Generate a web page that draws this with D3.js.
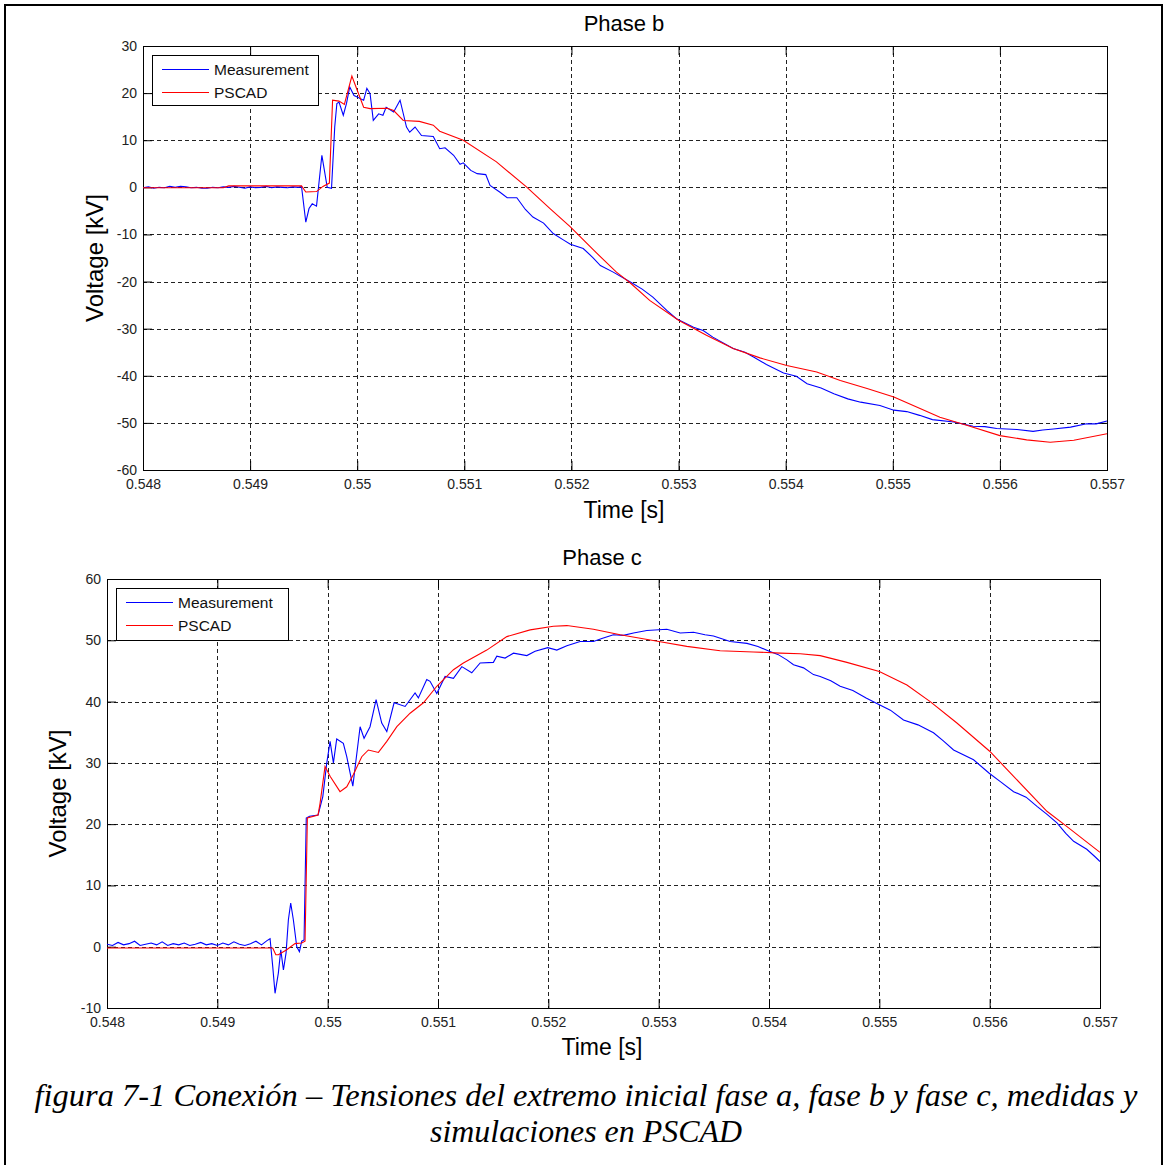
<!DOCTYPE html>
<html>
<head>
<meta charset="utf-8">
<script src="https://cdn.jsdelivr.net/npm/d3@7"></script>
<style>
  body { margin: 0; background: #fff; }
  svg { display: block; }
</style>
</head>
<body>
<svg id="chart" width="1166" height="1165"></svg>
<script>
// ---------------- DATA ----------------
const xTicks = [0.548, 0.549, 0.550, 0.551, 0.552, 0.553, 0.554, 0.555, 0.556, 0.557];
const xTickLabels = ["0.548", "0.549", "0.55", "0.551", "0.552", "0.553", "0.554", "0.555", "0.556", "0.557"];
const yTicksB = [30, 20, 10, 0, -10, -20, -30, -40, -50, -60];
const yTicksC = [60, 50, 40, 30, 20, 10, 0, -10];
const seriesNames = ["Measurement", "PSCAD"];

// Phase b – measurement [time s, kV]
const phaseB_meas = [
  [0.54800,-0.1],[0.54805,0.1],[0.54810,-0.2],[0.54815,0.0],[0.54820,-0.1],[0.54825,0.2],[0.54830,0.0],[0.54835,0.2],
  [0.54840,0.1],[0.54845,-0.1],[0.54850,0.0],[0.54855,-0.2],[0.54860,-0.2],[0.54865,0.0],[0.54870,-0.1],[0.54875,0.1],
  [0.54880,0.0],[0.54885,0.2],[0.54890,0.0],[0.54895,-0.2],[0.54900,0.1],[0.54905,-0.1],[0.54910,0.0],[0.54915,0.2],
  [0.54920,-0.1],[0.54925,0.1],[0.54930,0.0],[0.54935,-0.1],[0.54940,0.1],[0.54945,0.0],[0.54948,0.2],
  [0.54952,-7.4],[0.54955,-4.5],[0.54958,-3.5],[0.54962,-4.0],[0.54967,6.8],[0.54972,0.0],[0.54976,-0.2],
  [0.54979,12.8],[0.54981,17.8],[0.54983,18.1],[0.54987,15.3],[0.54990,17.8],[0.54993,21.3],[0.54997,19.5],
  [0.55000,19.2],[0.55003,18.8],[0.55006,18.5],[0.55009,21.0],[0.55012,19.9],[0.55015,14.2],[0.55020,15.6],
  [0.55024,15.3],[0.55027,17.0],[0.55034,16.0],[0.55040,18.5],[0.55046,12.8],[0.55049,11.7],[0.55054,12.8],
  [0.55060,11.0],[0.55071,10.8],[0.55077,8.2],[0.55082,8.4],[0.55090,6.8],[0.55096,4.9],[0.55099,5.2],
  [0.55106,3.6],[0.55112,2.9],[0.55120,2.7],[0.55124,0.4],[0.55133,-1.0],[0.55140,-2.2],[0.55149,-2.2],
  [0.55157,-4.7],[0.55164,-6.3],[0.55174,-7.6],[0.55183,-9.8],[0.55192,-11.1],[0.55199,-12.1],[0.55211,-13.0],
  [0.55220,-14.9],[0.55227,-16.6],[0.55239,-18.0],[0.55255,-20.1],[0.55266,-21.6],[0.55276,-23.3],[0.55289,-26.1],
  [0.55298,-27.9],[0.55314,-29.7],[0.55323,-30.4],[0.55332,-31.8],[0.55351,-34.2],[0.55362,-35.0],[0.55370,-36.0],
  [0.55382,-37.6],[0.55398,-39.4],[0.55410,-40.1],[0.55420,-41.7],[0.55433,-42.6],[0.55445,-43.8],[0.55458,-44.9],
  [0.55470,-45.6],[0.55488,-46.3],[0.55501,-47.3],[0.55513,-47.6],[0.55525,-48.4],[0.55537,-49.3],[0.55557,-49.8],
  [0.55575,-50.7],[0.55586,-50.8],[0.55597,-51.2],[0.55616,-51.4],[0.55631,-51.8],[0.55640,-51.5],[0.55650,-51.3],
  [0.55666,-50.9],[0.55681,-50.2],[0.55690,-50.2],[0.55700,-49.6]
];

// Phase b – PSCAD
const phaseB_sim = [
  [0.54800,-0.1],[0.54875,-0.1],[0.54880,0.3],[0.54948,0.3],[0.54952,-1.0],[0.54962,-0.9],[0.54968,0.2],
  [0.54974,0.9],[0.54977,18.5],[0.54983,18.3],[0.54988,17.6],[0.54995,23.6],[0.55000,20.6],[0.55006,17.0],
  [0.55012,16.7],[0.55028,16.8],[0.55034,16.3],[0.55043,14.2],[0.55058,14.0],[0.55071,13.2],[0.55077,11.9],
  [0.55099,10.0],[0.55130,5.4],[0.55158,0.1],[0.55180,-4.5],[0.55199,-8.4],[0.55221,-13.4],[0.55242,-18.0],
  [0.55255,-20.3],[0.55273,-24.0],[0.55300,-28.2],[0.55326,-31.4],[0.55351,-34.2],[0.55376,-36.2],[0.55401,-37.8],
  [0.55429,-39.2],[0.55451,-41.0],[0.55476,-42.7],[0.55501,-44.5],[0.55526,-47.0],[0.55544,-48.8],[0.55569,-50.5],
  [0.55600,-52.7],[0.55625,-53.6],[0.55647,-54.1],[0.55669,-53.7],[0.55700,-52.3]
];

// Phase c – measurement
const phaseC_meas = [
  [0.54800,0.4],[0.54805,0.2],[0.54810,0.7],[0.54815,0.3],[0.54820,0.5],[0.54825,0.9],[0.54830,0.2],[0.54835,0.4],
  [0.54840,0.6],[0.54845,0.3],[0.54850,0.8],[0.54855,0.2],[0.54860,0.5],[0.54865,0.3],[0.54870,0.6],[0.54875,0.2],
  [0.54880,0.4],[0.54885,0.7],[0.54890,0.3],[0.54895,0.5],[0.54900,0.2],[0.54905,0.6],[0.54910,0.3],[0.54915,0.8],
  [0.54920,0.4],[0.54925,0.2],[0.54930,0.5],[0.54935,0.9],[0.54940,0.3],[0.54945,1.0],
  [0.549478,1.3],[0.549502,-3.2],[0.549523,-7.6],[0.549553,-4.3],[0.549575,-0.5],[0.549599,-3.8],[0.549623,-1.0],
  [0.549644,4.4],[0.549665,7.1],[0.549689,4.4],[0.549720,0.0],[0.549744,-0.8],[0.549765,0.9],[0.549786,1.1],
  [0.549806,21.0],[0.549836,21.3],[0.549913,21.5],[0.549956,24.5],[0.549992,30.0],[0.550022,33.5],[0.550052,30.0],
  [0.550082,33.9],[0.550142,33.2],[0.550173,31.0],[0.550228,26.2],[0.550294,35.9],[0.550330,34.0],[0.550384,35.9],
  [0.550439,40.3],[0.550490,36.5],[0.550536,35.1],[0.550602,39.8],[0.550702,39.2],[0.550792,41.4],[0.550822,40.6],
  [0.550898,43.6],[0.550928,43.3],[0.550989,41.3],[0.551064,44.1],[0.551140,43.8],[0.551216,45.7],[0.551306,44.7],
  [0.551382,46.3],[0.551502,46.4],[0.551533,47.4],[0.551608,47.1],[0.551684,47.9],[0.551805,47.5],[0.551880,48.2],
  [0.551995,48.8],[0.552077,48.4],[0.552168,49.1],[0.552288,49.8],[0.552409,49.8],[0.552485,50.3],[0.552590,50.9],
  [0.552680,50.8],[0.552772,51.2],[0.552893,51.6],[0.553074,51.8],[0.553195,51.2],[0.553316,51.3],[0.553420,50.9],
  [0.553497,50.7],[0.553648,49.8],[0.553800,49.5],[0.553900,49.0],[0.554002,48.2],[0.554080,47.7],[0.554162,46.8],
  [0.554222,46.0],[0.554313,45.5],[0.554403,44.4],[0.554464,44.1],[0.554560,43.4],[0.554645,42.5],[0.554760,41.8],
  [0.554880,40.6],[0.555000,39.5],[0.555100,38.6],[0.555219,37.0],[0.555350,36.2],[0.555491,34.9],[0.555580,33.6],
  [0.555673,32.1],[0.555854,30.5],[0.555996,28.3],[0.556100,26.9],[0.556217,25.3],[0.556330,24.4],[0.556429,22.9],
  [0.556520,21.6],[0.556610,20.2],[0.556690,18.5],[0.556761,17.2],[0.556880,15.9],[0.556960,14.6],[0.557000,13.9]
];

// Phase c – PSCAD
const phaseC_sim = [
  [0.54800,-0.2],[0.549502,-0.2],[0.549530,-1.3],[0.549553,-1.3],[0.549629,-0.5],[0.549704,0.5],[0.549765,0.6],
  [0.549795,0.9],[0.549816,21.0],[0.549913,21.5],[0.549931,23.4],[0.549976,29.4],[0.550022,27.8],[0.550112,25.3],
  [0.550173,26.1],[0.550233,28.1],[0.550309,31.0],[0.550369,32.1],[0.550460,31.7],[0.550536,33.5],[0.550627,35.9],
  [0.550747,38.1],[0.550868,39.8],[0.550989,42.5],[0.551140,45.2],[0.551230,46.3],[0.551442,48.4],[0.551624,50.6],
  [0.551835,51.7],[0.552046,52.3],[0.552168,52.4],[0.552409,51.8],[0.552651,50.9],[0.553002,49.8],[0.553255,49.0],
  [0.553557,48.3],[0.553859,48.1],[0.554102,47.9],[0.554283,47.8],[0.554464,47.5],[0.554706,46.4],[0.555000,44.9],
  [0.555250,42.7],[0.555461,40.0],[0.555703,36.5],[0.556000,31.9],[0.556217,27.8],[0.556519,22.1],[0.556701,19.6],
  [0.557000,15.4]
];

const captionLines = [
  "figura 7-1 Conexión – Tensiones del extremo inicial  fase a, fase b y fase c, medidas y",
  "simulaciones en PSCAD"
];

// ---------------- DRAWING ----------------
const svg = d3.select("#chart");
const COLORS = { meas: "#0000ff", sim: "#ff0000" };
const FONT = "'Liberation Sans', Arial, sans-serif";
const SERIF = "'Liberation Serif', 'Times New Roman', serif";

// figure border
svg.append("rect").attr("x", 5).attr("y", 5).attr("width", 1157).attr("height", 1162)
  .attr("fill", "none").attr("stroke", "#000").attr("stroke-width", 2);

function drawPanel(p) {
  const g = svg.append("g");
  const x = d3.scaleLinear().domain([0.548, 0.557]).range([p.left, p.right]);
  const y = d3.scaleLinear().domain(p.yDomain).range([p.bottom, p.top]);
  const id = "clip" + p.name;
  svg.append("clipPath").attr("id", id).append("rect")
    .attr("x", p.left).attr("y", p.top).attr("width", p.right - p.left).attr("height", p.bottom - p.top);

  // grid
  const grid = g.append("g").attr("stroke", "#222").attr("stroke-width", 1).attr("stroke-dasharray", "4,3");
  xTicks.slice(1, -1).forEach(t => grid.append("line")
    .attr("x1", Math.round(x(t)) + 0.5).attr("x2", Math.round(x(t)) + 0.5)
    .attr("y1", p.top).attr("y2", p.bottom));
  p.yTicks.filter(v => v !== p.yDomain[0] && v !== p.yDomain[1]).forEach(v => grid.append("line")
    .attr("y1", Math.round(y(v)) + 0.5).attr("y2", Math.round(y(v)) + 0.5)
    .attr("x1", p.left).attr("x2", p.right));

  // axes (ticks inward on all four sides)
  const tl = 9;
  g.append("g").attr("transform", `translate(0,${p.bottom})`)
    .call(d3.axisBottom(x).tickValues(xTicks).tickFormat((d, i) => xTickLabels[i]).tickSizeInner(-tl).tickSizeOuter(0).tickPadding(9))
    .call(a => a.select(".domain").remove())
    .call(a => a.selectAll("text").attr("font-family", FONT).attr("font-size", 14).attr("fill", "#222"));
  g.append("g").attr("transform", `translate(0,${p.top})`)
    .call(d3.axisTop(x).tickValues(xTicks).tickFormat("").tickSizeInner(-tl).tickSizeOuter(0))
    .call(a => a.select(".domain").remove());
  g.append("g").attr("transform", `translate(${p.left},0)`)
    .call(d3.axisLeft(y).tickValues(p.yTicks).tickFormat(d => String(d)).tickSizeInner(-tl).tickSizeOuter(0).tickPadding(6))
    .call(a => a.select(".domain").remove())
    .call(a => a.selectAll("text").attr("font-family", FONT).attr("font-size", 14).attr("fill", "#222"));
  g.append("g").attr("transform", `translate(${p.right},0)`)
    .call(d3.axisRight(y).tickValues(p.yTicks).tickFormat("").tickSizeInner(-tl).tickSizeOuter(0))
    .call(a => a.select(".domain").remove());
  g.selectAll(".tick line").attr("stroke", "#000");

  // box
  g.append("rect").attr("x", p.left + 0.5).attr("y", p.top + 0.5)
    .attr("width", p.right - p.left).attr("height", p.bottom - p.top)
    .attr("fill", "none").attr("stroke", "#000").attr("stroke-width", 1);

  // series
  const line = d3.line().x(d => x(d[0])).y(d => y(d[1]));
  const plot = g.append("g").attr("clip-path", `url(#${id})`);
  plot.append("path").datum(p.meas).attr("d", line)
    .attr("fill", "none").attr("stroke", COLORS.meas).attr("stroke-width", 1.1);
  plot.append("path").datum(p.sim).attr("d", line)
    .attr("fill", "none").attr("stroke", COLORS.sim).attr("stroke-width", 1.1);

  // title + labels
  svg.append("text").attr("x", p.titleX).attr("y", p.titleY).attr("text-anchor", "middle")
    .attr("font-family", FONT).attr("font-size", 22).text(p.title);
  svg.append("text").attr("x", p.titleX).attr("y", p.xlabelY).attr("text-anchor", "middle")
    .attr("font-family", FONT).attr("font-size", 23).text("Time [s]");
  svg.append("text").attr("transform", `translate(${p.ylabelX},${(p.top + p.bottom) / 2}) rotate(-90)`)
    .attr("text-anchor", "middle").attr("font-family", FONT).attr("font-size", 24).text("Voltage [kV]");

  // legend
  const L = p.legend;
  const lg = svg.append("g");
  lg.append("rect").attr("x", L.x + 0.5).attr("y", L.y + 0.5).attr("width", L.w).attr("height", L.h)
    .attr("fill", "#fff").attr("stroke", "#000").attr("stroke-width", 1);
  [COLORS.meas, COLORS.sim].forEach((c, i) => {
    const yy = L.y + 14 + i * 23 + 0.5;
    lg.append("line").attr("x1", L.x + 10).attr("x2", L.x + 57).attr("y1", yy).attr("y2", yy)
      .attr("stroke", c).attr("stroke-width", 1.1);
    lg.append("text").attr("x", L.x + 62).attr("y", yy + 5.5).attr("font-family", FONT)
      .attr("font-size", 15.5).attr("fill", "#111").text(seriesNames[i]);
  });
}

drawPanel({
  name: "b", title: "Phase b", left: 143, right: 1107, top: 46, bottom: 470,
  yDomain: [-60, 30], yTicks: yTicksB, meas: phaseB_meas, sim: phaseB_sim,
  titleX: 624, titleY: 31, xlabelY: 518, ylabelX: 103,
  legend: { x: 152, y: 55, w: 166, h: 50 }
});
drawPanel({
  name: "c", title: "Phase c", left: 107, right: 1100, top: 579, bottom: 1008,
  yDomain: [-10, 60], yTicks: yTicksC, meas: phaseC_meas, sim: phaseC_sim,
  titleX: 602, titleY: 565, xlabelY: 1055, ylabelX: 66,
  legend: { x: 116, y: 588, w: 172, h: 52 }
});

// caption
svg.append("text").attr("x", 586).attr("y", 1106).attr("text-anchor", "middle")
  .attr("font-family", SERIF).attr("font-style", "italic")
  .attr("font-size", 32).attr("textLength", 1103).attr("lengthAdjust", "spacingAndGlyphs")
  .text(captionLines[0]);
svg.append("text").attr("x", 586).attr("y", 1142).attr("text-anchor", "middle")
  .attr("font-family", SERIF).attr("font-style", "italic")
  .attr("font-size", 32).attr("textLength", 312).attr("lengthAdjust", "spacingAndGlyphs")
  .text(captionLines[1]);
</script>
</body>
</html>
